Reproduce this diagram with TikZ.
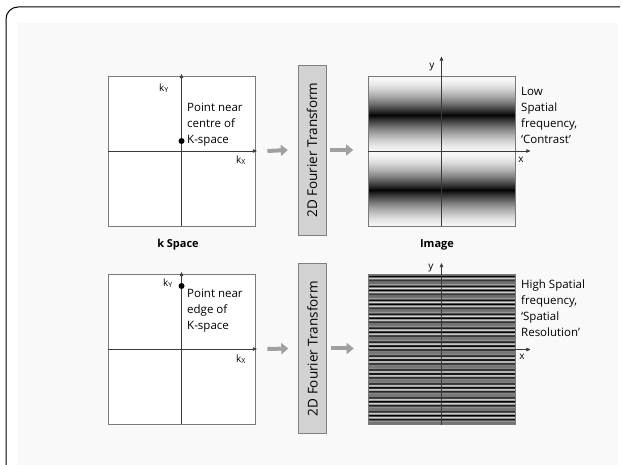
\documentclass[tikz,border=0pt]{standalone}
\usepackage{fontspec}
\setmainfont{Open Sans}
\usetikzlibrary{arrows.meta,positioning}
\definecolor{pagebg}{HTML}{F9F9F9}
\definecolor{boxline}{HTML}{7A7A7A}
\definecolor{axisline}{HTML}{3A3A3A}
\definecolor{ftfill}{HTML}{D2D2D2}
\definecolor{flowgray}{HTML}{A0A0A0}

\begin{document}
\begin{tikzpicture}[x=1pt,y=-1pt,
   every node/.style={inner sep=0pt, font=\fontsize{11.5}{16}\selectfont},
   panel/.style={draw=boxline, line width=0.9pt, minimum width=147pt, minimum height=150pt},
   axis/.style={draw=axisline, line width=0.7pt, -{Triangle[length=4pt,width=3.5pt]}},
   flow/.style={draw=flowgray, line width=4pt, -{Triangle[length=7pt,width=11pt]}},
   ftbox/.style={draw=gray, fill=ftfill, rotate=90, minimum width=170pt,
                 minimum height=28pt, font=\fontsize{13.5}{14}\selectfont},
   note/.style={align=left, anchor=north west},
   caption/.style={font=\fontsize{11}{12}\selectfont\bfseries},
   axlabel/.style={font=\fontsize{10}{10}\selectfont},
   kdot/.style={circle, fill=black, minimum size=6pt}]

\useasboundingbox (0,0) rectangle (622,465);

% frame and page
\draw[line width=1pt, rounded corners=12pt] (6,465) -- (6,7) -- (620,7);
\fill[pagebg] (18,23) rectangle (618,465);

% low frequency image
\foreach \i in {0,...,149} {
  \pgfmathsetmacro\t{abs(mod(\i+73.5,75)-37.5)/37.5}
  \pgfmathsetmacro\d{3+95*(1-\t)^1.6}
  \fill[black!\d] (368,{76+\i}) rectangle (515,{77.2+\i});
}
% high frequency image
\foreach \i in {0,...,149} {
  \pgfmathsetmacro\d{min(100,max(5,58+24*sin(\i*77.7)+22*sin(\i*103.3)))}
  \fill[black!\d] (368,{275+\i}) rectangle (515,{276.2+\i});
}

% top row
\node[panel, fill=white] (kA) at (181.5,151) {};
\draw[axis] (kA.south) -- ([yshift=1.5pt]kA.north);
\draw[axis] (kA.west) -- ([xshift=1.5pt]kA.east);
\node[axlabel] (kyA) at (164,88) {k\textsubscript{Y}};
\node[axlabel] (kxA) at (241,160) {k\textsubscript{X}};
\node[kdot] (pA) at (181.5,141) {};
\node[note] (tA) at (187,103) {Point near\\centre of\\K-space};

\node[ftbox] (ftA) at (312,150) {2D Fourier Transform};
\draw[flow] ([xshift=12pt]kA.east) -- ([xshift=-10pt]ftA.north);
\draw[flow] ([xshift=4pt]ftA.south) -- ([xshift=27pt]ftA.south);

\node[panel] (imA) at (441.5,151) {};
\draw[axis] (imA.south) -- ([yshift=19pt]imA.north);
\draw[axis] (imA.west) -- ([xshift=15pt]imA.east);
\node[axlabel] (yA) at (432,67) {y};
\node[axlabel] (xA) at (521,160) {x};
\node[note] (tB) at (521,87) {Low\\Spatial\\frequency,\\‘Contrast’};

\node[caption] (capK) at (178,245) {k Space};
\node[caption] (capI) at (437,245) {Image};

% bottom row
\node[panel, fill=white] (kB) at (181.5,349) {};
\draw[axis] (kB.south) -- ([yshift=1.5pt]kB.north);
\draw[axis] (kB.west) -- ([xshift=1.5pt]kB.east);
\node[axlabel] (kyB) at (168,283) {k\textsubscript{Y}};
\node[axlabel] (kxB) at (241,359) {k\textsubscript{X}};
\node[kdot] (pB) at (181.5,286) {};
\node[note] (tC) at (187,289) {Point near\\edge of\\K-space};

\node[ftbox] (ftB) at (312.5,348.5) {2D Fourier Transform};
\draw[flow] ([xshift=12pt]kB.east) -- ([xshift=-10pt]ftB.north);
\draw[flow] ([xshift=4pt]ftB.south) -- ([xshift=27pt]ftB.south);

\node[panel] (imB) at (441.5,349.5) {};
\draw[axis] (imB.south) -- ([yshift=11pt]imB.north);
\draw[axis] (imB.west) -- ([xshift=15pt]imB.east);
\node[axlabel] (yB) at (431,268) {y};
\node[axlabel] (xB) at (522,357) {x};
\node[note] (tD) at (521,280) {High Spatial\\frequency,\\‘Spatial\\Resolution’};

\end{tikzpicture}
\end{document}
